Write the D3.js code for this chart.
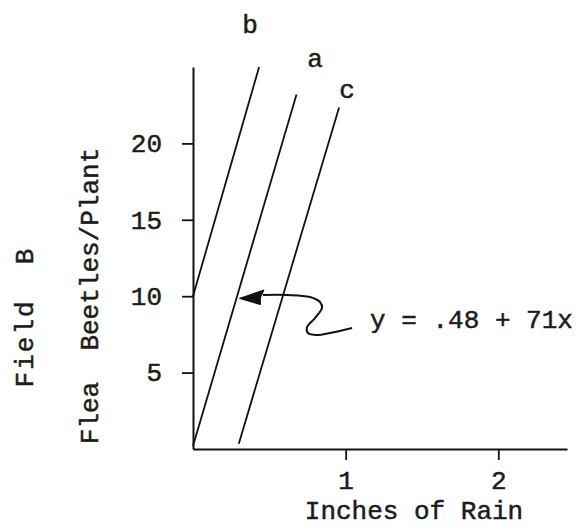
<!DOCTYPE html>
<html>
<head>
<meta charset="utf-8">
<script src="https://cdn.jsdelivr.net/npm/d3@7"></script>
<style>
  body { margin: 0; background: #fff; }
  text { font-family: "Liberation Mono", "Courier New", monospace; fill: #1c1c1c; stroke: #1c1c1c; stroke-width: 0.5px; }
</style>
</head>
<body>
<div id="chart"></div>
<script>
// values (inches of rain, flea beetles per plant)
const lineNames = ["b", "a", "c"];
const lineStart = [[0, 10], [0, 0.2], [0.30, 0.35]];
const lineEnd = [[0.433, 25], [0.678, 23.2], [0.957, 22.35]];
const labelPos = [[0.374, 27.2], [0.80, 25.03], [1.01, 22.94]];

const xTicks = [1, 2];
const yTicks = [5, 10, 15, 20];

// hand drawn arrow pointing at line a
const arrowPath = [[0.459, 10.08], [0.616, 10.08], [0.766, 9.95], [0.832, 9.62], [0.845, 9.23],
  [0.799, 8.57], [0.747, 7.98], [0.753, 7.59], [0.812, 7.46], [0.897, 7.59], [1.042, 7.92]];
const arrowHead = [[0.308, 9.86], [0.462, 10.38], [0.44, 9.9], [0.44, 9.47]];
const equation = "y = .48 + 71x";
const equationPos = [1.16, 7.92];

const width = 582, height = 527;
const svg = d3.select("#chart").append("svg").attr("width", width).attr("height", height);

const x = d3.scaleLinear().domain([0, 2.45]).range([193, 567]);
const y = d3.scaleLinear().domain([0, 25]).range([449, 67]);

const xAxis = svg.append("g")
  .attr("transform", `translate(0,${y(0)})`)
  .call(d3.axisBottom(x).tickValues(xTicks).tickSize(11).tickSizeOuter(0).tickPadding(11).tickFormat(d3.format("d")));
const yAxis = svg.append("g")
  .attr("transform", `translate(${x(0)},0)`)
  .call(d3.axisLeft(y).tickValues(yTicks).tickSize(11).tickSizeOuter(0).tickPadding(20).tickFormat(d3.format("d")));

[xAxis, yAxis].forEach(g => {
  g.select(".domain").attr("stroke", "#111").attr("stroke-width", 2);
  g.selectAll(".tick line").attr("stroke", "#111").attr("stroke-width", 1.8);
  g.selectAll(".tick text").attr("font-size", 26).attr("font-family", null).attr("fill", "#1c1c1c");
});

// the three regression lines
svg.selectAll("line.series")
  .data(lineNames)
  .join("line")
  .attr("class", "series")
  .attr("x1", (d, i) => x(lineStart[i][0]))
  .attr("y1", (d, i) => y(lineStart[i][1]))
  .attr("x2", (d, i) => x(lineEnd[i][0]))
  .attr("y2", (d, i) => y(lineEnd[i][1]))
  .attr("stroke", "#111")
  .attr("stroke-width", 1.8);

svg.selectAll("text.series-label")
  .data(lineNames)
  .join("text")
  .attr("class", "series-label")
  .attr("x", (d, i) => x(labelPos[i][0]))
  .attr("y", (d, i) => y(labelPos[i][1]))
  .attr("text-anchor", "middle")
  .attr("font-size", 26)
  .text(d => d);

// arrow
const arrowLine = d3.line().x(d => x(d[0])).y(d => y(d[1])).curve(d3.curveCatmullRom);
svg.append("path")
  .attr("d", arrowLine(arrowPath))
  .attr("fill", "none")
  .attr("stroke", "#111")
  .attr("stroke-width", 2);
svg.append("path")
  .attr("d", d3.line().x(d => x(d[0])).y(d => y(d[1]))(arrowHead) + "Z")
  .attr("fill", "#111")
  .attr("stroke", "#111")
  .attr("stroke-width", 1.5)
  .attr("stroke-linejoin", "round");

svg.append("text")
  .attr("x", x(equationPos[0]))
  .attr("y", y(equationPos[1]))
  .attr("font-size", 26)
  .attr("xml:space", "preserve")
  .text(equation);

// axis titles
svg.append("text")
  .attr("x", 414)
  .attr("y", 519)
  .attr("text-anchor", "middle")
  .attr("font-size", 26)
  .text("Inches of Rain");

svg.append("text")
  .attr("transform", "translate(98,296) rotate(-90)")
  .attr("text-anchor", "middle")
  .attr("font-size", 26)
  .style("white-space", "pre")
  .text("Flea  Beetles/Plant");

svg.append("text")
  .attr("transform", "translate(33,317) rotate(-90)")
  .attr("text-anchor", "middle")
  .attr("font-size", 26)
  .attr("letter-spacing", 2)
  .style("white-space", "pre")
  .text("Field  B");
</script>
</body>
</html>
